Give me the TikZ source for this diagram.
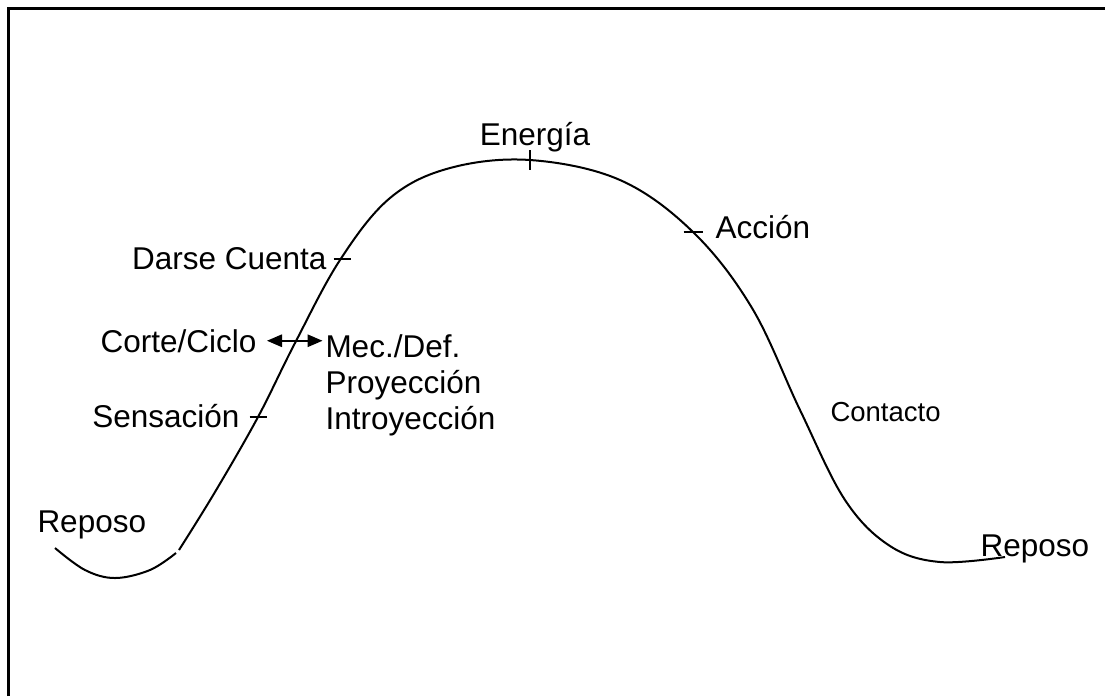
\documentclass[tikz,border=0pt]{standalone}
\usepackage{fontspec}
\setmainfont{Liberation Sans}
\usetikzlibrary{arrows.meta}

\begin{document}
\begin{tikzpicture}[x=0.4pt, y=-0.4pt, every node/.style={inner sep=0pt, font=\fontsize{12.6}{15}\selectfont},
  tick/.style={line width=0.6pt}]
  \useasboundingbox (0,0) rectangle (1105,696);
  \draw [line width=1.2pt] (8.5,696) |- (1105,8.5);
  % curve
  \draw [line width=0.8pt] plot [smooth, tension=0.6] coordinates {(55,548) (85,570) (115,578) (150,570) (176,553)};
  \draw [line width=0.8pt] plot [smooth, tension=0.6] coordinates {(179,550) (215,492) (258,417) (295,343) (340,260) (390,198) (450,168) (530,160) (620,180) (693,232) (752,308) (800,410) (845,500) (890,546) (940,562) (1005,557)};
  % marks
  \coordinate (s) at (258,417);
  \coordinate (d) at (342,259);
  \coordinate (e) at (530,160);
  \coordinate (a) at (693,232);
  \draw [tick] ([xshift=-3.4pt]s) -- ([xshift=3.4pt]s);
  \draw [tick] ([xshift=-3.4pt]d) -- ([xshift=3.4pt]d);
  \draw [tick] ([yshift=4pt]e) -- ([yshift=-4pt]e);
  \draw [tick] ([xshift=-3.8pt]a) -- ([xshift=3.8pt]a);
  % labels
  \node [anchor=base west] (rep1) at (37,532) {Reposo};
  \node [anchor=base east] (sens) at (240,427) {Sensación};
  \node [anchor=base east] (corte) at (257,352) {Corte/Ciclo};
  \node [anchor=base west] (mec) at (325,357) {Mec./Def.};
  \node [anchor=base west] (proy) at (325,393) {Proyección};
  \node [anchor=base west] (intro) at (325,429) {Introyección};
  \node [anchor=base east] (darse) at (327,269) {Darse Cuenta};
  \node [anchor=base] (ener) at (535,145) {Energía};
  \node [anchor=base west] (acc) at (715,238) {Acción};
  \node [anchor=base west, font=\fontsize{11}{13}\selectfont] (cont) at (830,421) {Contacto};
  \node [anchor=base west] (rep2) at (980,556) {Reposo};
  \draw [{Triangle[length=6pt, width=5pt]}-{Triangle[length=6pt, width=5pt]}, line width=0.6pt] ([xshift=4pt]corte.east) -- ([xshift=-1pt]corte.east -| mec.west);
\end{tikzpicture}
\end{document}
